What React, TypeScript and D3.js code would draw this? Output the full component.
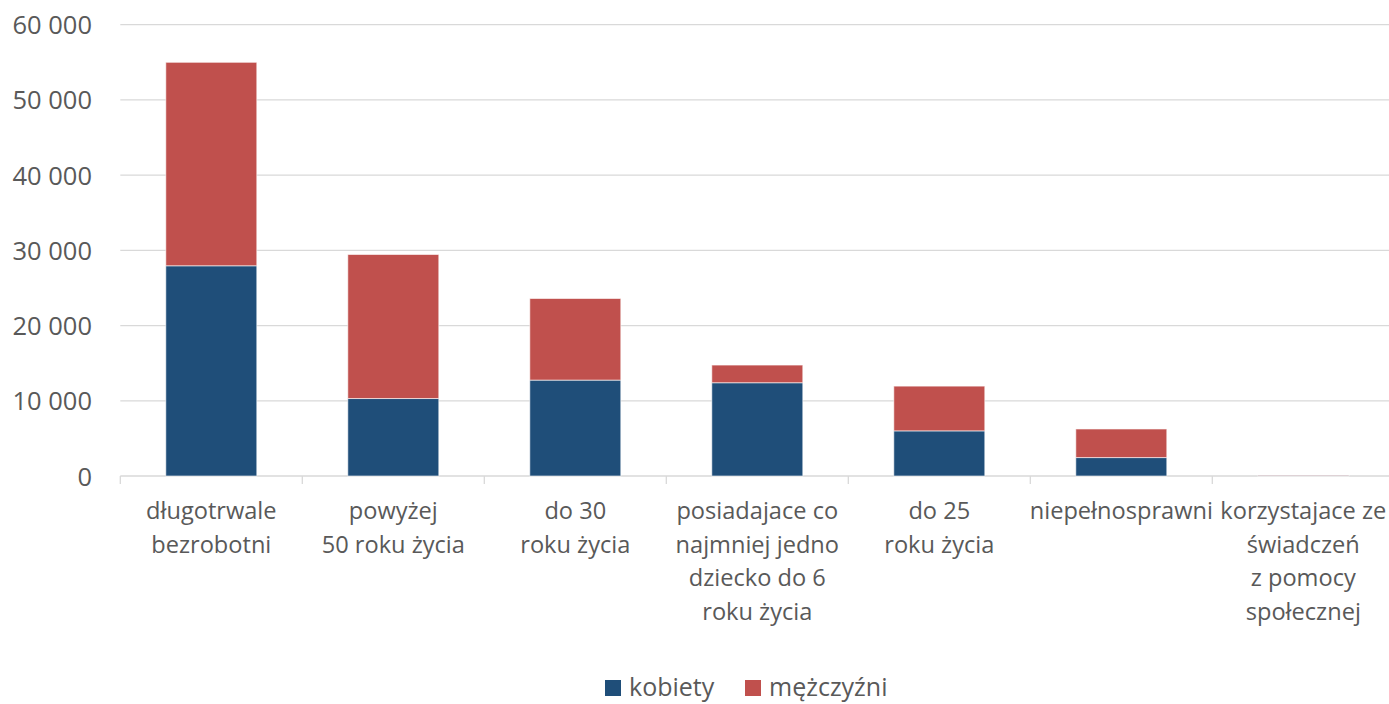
import { useEffect, useRef } from "react";
import * as d3 from "d3";

const categories = [
  ["długotrwale", "bezrobotni"],
  ["powyżej", "50 roku życia"],
  ["do 30", "roku życia"],
  ["posiadajace co", "najmniej jedno", "dziecko do 6", "roku życia"],
  ["do 25", "roku życia"],
  ["niepełnosprawni"],
  ["korzystajace ze", "świadczeń", "z pomocy", "społecznej"],
];

const kobiety = [27950, 10300, 12750, 12400, 6000, 2450, 90];
const mezczyzni = [27050, 19150, 10850, 2350, 5950, 3800, 40];

const seriesNames = ["kobiety", "mężczyźni"];
const colors = ["#1F4E79", "#C0504D"];
const yTicks = [0, 10000, 20000, 30000, 40000, 50000, 60000];

const width = 1389;
const height = 704;
const font = "'Open Sans', sans-serif";
const textColor = "#595959";
const gridColor = "#d9d9d9";

const App = () => {
  const ref = useRef<SVGSVGElement | null>(null);

  useEffect(() => {
    const svg = d3.select(ref.current);
    svg.selectAll("*").remove();

    const keys = categories.map((c) => c.join(" "));
    const rows = keys.map((k, i) => ({ key: k, kobiety: kobiety[i], mezczyzni: mezczyzni[i] }));

    const x = d3
      .scaleBand()
      .domain(keys)
      .range([120.3, 1394.3])
      .paddingInner(0.5)
      .paddingOuter(0.25);

    const y = d3.scaleLinear().domain([0, 60000]).range([476, 24.7]);

    const fmt = (v: number) => d3.format(",")(v).replace(/,/g, " ");

    // gridlines
    svg
      .append("g")
      .selectAll("line")
      .data(yTicks)
      .enter()
      .append("line")
      .attr("x1", 120.3)
      .attr("x2", 1394.3)
      .attr("y1", (d) => y(d))
      .attr("y2", (d) => y(d))
      .attr("stroke", gridColor)
      .attr("stroke-width", 1.3);

    // category tick marks
    const step = x.step();
    svg
      .append("g")
      .selectAll("line")
      .data(d3.range(keys.length + 1))
      .enter()
      .append("line")
      .attr("x1", (i) => 120.3 + i * step)
      .attr("x2", (i) => 120.3 + i * step)
      .attr("y1", y(0))
      .attr("y2", y(0) + 8)
      .attr("stroke", gridColor)
      .attr("stroke-width", 1.3);

    // y labels
    svg
      .append("g")
      .selectAll("text")
      .data(yTicks)
      .enter()
      .append("text")
      .attr("x", 92)
      .attr("y", (d) => y(d) + 9.5)
      .attr("text-anchor", "end")
      .style("font-family", font)
      .style("font-size", "25.5px")
      .attr("fill", textColor)
      .text((d) => fmt(d));

    // stacked bars
    const stack = d3.stack<any>().keys(["kobiety", "mezczyzni"]);
    const stacked = stack(rows);

    svg
      .append("g")
      .selectAll("g")
      .data(stacked)
      .enter()
      .append("g")
      .attr("fill", (_d, i) => colors[i])
      .selectAll("rect")
      .data((d) => d)
      .enter()
      .append("rect")
      .attr("x", (d: any) => x(d.data.key) as number)
      .attr("width", x.bandwidth())
      .attr("y", (d) => y(d[1]))
      .attr("height", (d) => y(d[0]) - y(d[1]))
      .attr("stroke", "#ffffff")
      .attr("stroke-opacity", 0.6)
      .attr("stroke-width", 1);

    // category labels
    const labels = svg
      .append("g")
      .selectAll("text")
      .data(categories)
      .enter()
      .append("text")
      .attr("text-anchor", "middle")
      .style("font-family", font)
      .style("font-size", "23.6px")
      .attr("fill", textColor);

    labels
      .selectAll("tspan")
      .data((d, i) => d.map((line) => ({ line, key: keys[i] })))
      .enter()
      .append("tspan")
      .attr("x", (d) => (x(d.key) as number) + x.bandwidth() / 2)
      .attr("y", (_d, j) => 519 + j * 33.5)
      .text((d) => d.line);

    // legend (nudged up a little so descenders stay inside the picture)
    const legendX = [605, 745];
    const legend = svg
      .append("g")
      .selectAll("g")
      .data(seriesNames)
      .enter()
      .append("g")
      .attr("transform", (_d, i) => "translate(" + legendX[i] + ",680)");

    legend
      .append("rect")
      .attr("width", 16)
      .attr("height", 16)
      .attr("fill", (_d, i) => colors[i]);

    legend
      .append("text")
      .attr("x", 24)
      .attr("y", 16)
      .style("font-family", font)
      .style("font-size", "25px")
      .attr("fill", textColor)
      .text((d) => d);
  }, []);

  return (
    <div style={{ position: "absolute", left: 0, top: 0 }}>
      <svg ref={ref} width={width} height={height} style={{ display: "block", background: "#fff" }} />
    </div>
  );
};

export default App;
